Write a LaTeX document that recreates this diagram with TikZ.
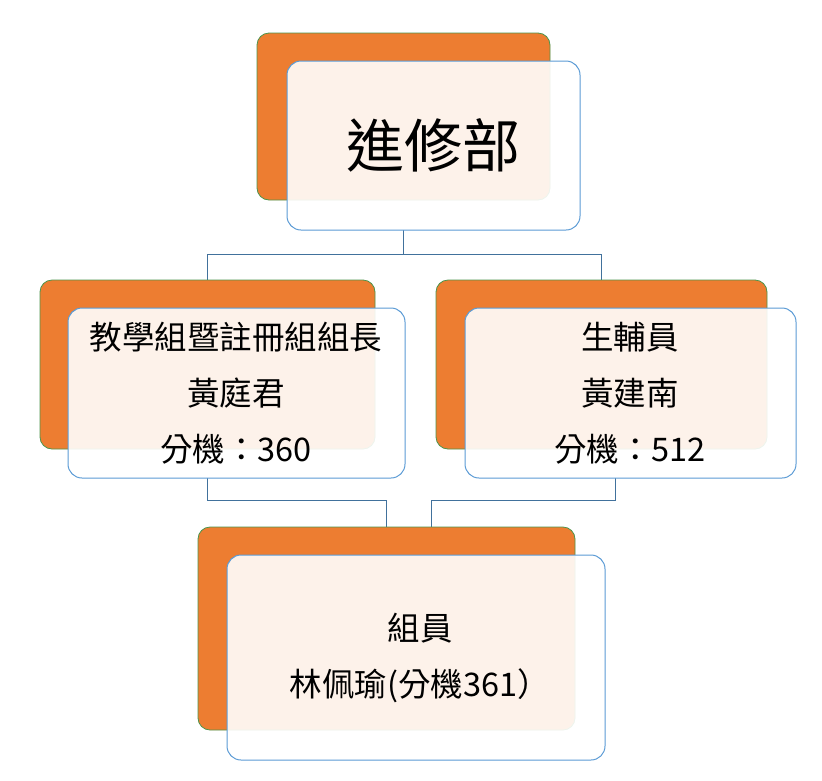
\documentclass[tikz,border=0pt]{standalone}
\usepackage{fontspec}
\setmainfont{Noto Sans CJK TC}
\begin{document}
\begin{tikzpicture}[x=1pt,y=-1pt,
  back/.style={draw=green!40!black!70,fill={rgb,255:red,237;green,125;blue,49},rounded corners=12pt,line width=0.8pt},
  front/.style={draw={rgb,255:red,91;green,155;blue,213},fill=white,fill opacity=0.9,text opacity=1,rounded corners=14pt,line width=1pt},
  conn/.style={draw={rgb,255:red,65;green,113;blue,156},line width=1pt},
  lbl/.style={font=\fontsize{32.5}{56}\selectfont,align=center}]
\useasboundingbox (0,0) rectangle (822,780);
% connectors
\coordinate (tb) at (403,230);
\coordinate (lt) at (207,280);
\coordinate (rt) at (601,280);
\draw[conn] (tb) -- (403,254) -| (lt);
\draw[conn] (403,254) -| (rt);
\coordinate (lb) at (207,478);
\coordinate (rb) at (615,478);
\draw[conn] (lb) -- (207,500) -| (386,527);
\draw[conn] (rb) -- (615,500) -| (431,527);
% boxes
\draw[back] (257,33) rectangle (550,200);
\draw[front] (287,61) rectangle (580,230);
\node[font=\fontsize{58}{60}\selectfont] (t) at (433,145) {進修部};
\draw[back] (40,280) rectangle (375,449);
\draw[front] (68,308) rectangle (405,478);
\node[lbl] (l) at (236,393) {教學組暨註冊組組長\\黃庭君\\分機：360};
\draw[back] (436,280) rectangle (767,449);
\draw[front] (465,308) rectangle (796,478);
\node[lbl] (r) at (630,393) {生輔員\\黃建南\\分機：512};
\draw[back] (198,527) rectangle (575,730);
\draw[front] (227,555) rectangle (605,760);
\node[lbl] (b) at (420,658) {組員\\林佩瑜(分機361）};
\end{tikzpicture}
\end{document}
